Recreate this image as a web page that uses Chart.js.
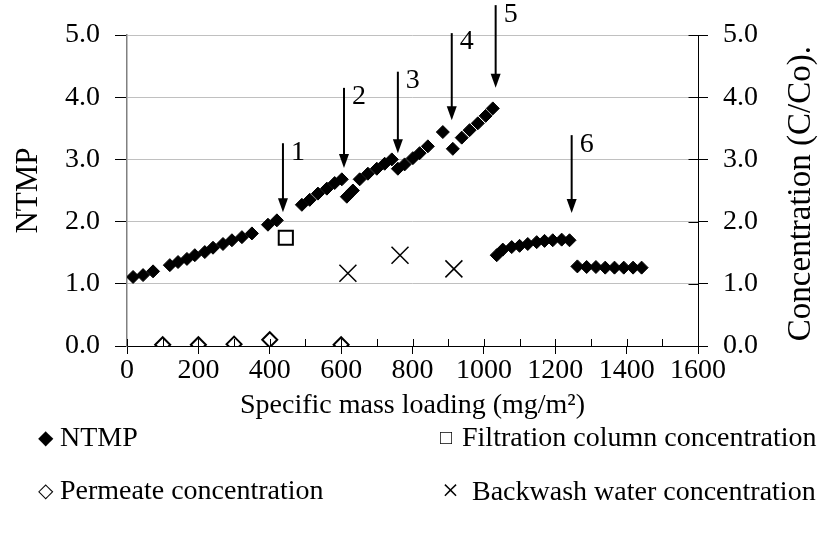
<!DOCTYPE html>
<html>
<head>
<meta charset="utf-8">
<script src="https://cdn.jsdelivr.net/npm/chart.js@4.4.0/dist/chart.umd.min.js"></script>
<style>
  body { margin: 0; background: #fff; }
  #wrap { position: relative; width: 830px; height: 554px; }
  .leg { position: absolute; font-family: "Liberation Serif", serif; font-size: 28px; line-height: 32px; color: #000; white-space: nowrap; }
  .leg span { display: inline-block; width: 22px; font-size: 20px; vertical-align: 2px; }
  .leg span.x { width: 30px; font-size: 30px; vertical-align: 0; }
</style>
</head>
<body>
<div id="wrap">
  <canvas id="chart" width="830" height="554"></canvas>
  <div class="leg" style="left:38px; top:421px;"><span>&#9670;</span>NTMP</div>
  <div class="leg" style="left:440px; top:421px;"><span>&#9633;</span>Filtration column concentration</div>
  <div class="leg" style="left:38px; top:474px;"><span>&#9671;</span>Permeate concentration</div>
  <div class="leg" style="left:442px; top:474px;"><span class="x">&#215;</span>Backwash water concentration</div>
</div>
<script>
// NTMP vs specific mass loading
const ntmpX = [17, 45, 73, 120, 143, 168, 190, 218, 241, 269, 294, 322, 350, 395, 420,
  490, 512, 535, 560, 582, 602,
  616, 633, 652, 675, 700, 722, 742,
  759, 778, 801, 820, 843,
  885, 913, 938, 960, 983, 1005, 1025,
  1036, 1053, 1078, 1100, 1123, 1148, 1170, 1193, 1218, 1240,
  1262, 1288, 1314, 1340, 1366, 1392, 1418, 1442];
const ntmpY = [1.11, 1.14, 1.2, 1.3, 1.35, 1.4, 1.46, 1.51, 1.58, 1.64, 1.7, 1.75, 1.81, 1.95, 2.02,
  2.27, 2.35, 2.45, 2.53, 2.62, 2.68,
  2.4, 2.5, 2.68, 2.77, 2.85, 2.93, 3.0,
  2.85, 2.92, 3.02, 3.1, 3.21,
  3.44, 3.17, 3.35, 3.47, 3.58, 3.7, 3.82,
  1.46, 1.55, 1.59, 1.61, 1.64, 1.67, 1.69, 1.7, 1.71, 1.7,
  1.28, 1.27, 1.27, 1.26, 1.26, 1.26, 1.26, 1.26];

// concentrations (C/Co)
const permeateX = [100, 200, 300, 400, 600];
const permeateY = [0.02, 0.02, 0.03, 0.1, 0.02];
const columnX = [445];
const columnY = [1.74];
const backwashX = [619, 765, 916];
const backwashY = [1.17, 1.46, 1.24];

// backwash markers
const arrowLabels = ["1", "2", "3", "4", "5", "6"];
const arrowX = [437, 608, 759, 910, 1033, 1246];
const arrowTop = [3.26, 4.15, 4.41, 5.03, 5.48, 3.39];
const arrowTip = [2.15, 2.86, 3.1, 3.63, 4.15, 2.14];

const FONT = "Liberation Serif";

function toPoints(xs, ys) {
  return xs.map((x, i) => ({ x: x, y: ys[i] }));
}

const arrowPlugin = {
  id: "arrows",
  afterDraw(chart) {
    const ctx = chart.ctx;
    const xs = chart.scales.x;
    const ys = chart.scales.y;
    ctx.save();
    ctx.strokeStyle = "#000";
    ctx.fillStyle = "#000";

    // tick marks inside the plot (minor every 100, major cross the axis)
    ctx.lineWidth = 1;
    const axisY = ys.getPixelForValue(0);
    for (let v = 0; v <= 1600; v += 100) {
      const px = Math.round(xs.getPixelForValue(v)) + 0.5;
      ctx.beginPath();
      ctx.moveTo(px, axisY);
      ctx.lineTo(px, axisY - 7);
      ctx.stroke();
    }
    // right axis ticks inward
    const rx = Math.round(chart.scales.y2.left) + 0.5;
    for (let v = 0; v <= 5; v++) {
      const py = Math.round(ys.getPixelForValue(v)) + 0.5;
      ctx.beginPath();
      ctx.moveTo(rx - 10, py);
      ctx.lineTo(rx, py);
      ctx.stroke();
    }

    // arrows
    ctx.lineWidth = 2;
    ctx.font = "28px " + FONT;
    ctx.textAlign = "left";
    ctx.textBaseline = "middle";
    arrowX.forEach((v, i) => {
      const px = xs.getPixelForValue(v);
      const top = ys.getPixelForValue(arrowTop[i]);
      const tip = ys.getPixelForValue(arrowTip[i]);
      ctx.beginPath();
      ctx.moveTo(px, top);
      ctx.lineTo(px, tip - 12);
      ctx.stroke();
      ctx.beginPath();
      ctx.moveTo(px - 5, tip - 14);
      ctx.lineTo(px + 5, tip - 14);
      ctx.lineTo(px, tip);
      ctx.closePath();
      ctx.fill();
      ctx.fillText(arrowLabels[i], px + 8, top + 9);
    });

    // right axis title, reading upwards
    ctx.save();
    ctx.font = "33px " + FONT;
    ctx.translate(801, ys.getPixelForValue(2.45));
    ctx.rotate(-Math.PI / 2);
    ctx.textAlign = "center";
    ctx.fillText("Concentration (C/Co).", 0, 0);
    ctx.restore();

    ctx.restore();
  },
};

const ctx = document.getElementById("chart").getContext("2d");
new Chart(ctx, {
  type: "scatter",
  data: {
    datasets: [
      {
        label: "NTMP",
        data: toPoints(ntmpX, ntmpY),
        yAxisID: "y",
        pointStyle: "rectRot",
        pointRadius: 6.5,
        backgroundColor: "#000",
        borderColor: "#000",
        borderWidth: 1,
      },
      {
        label: "Filtration column concentration",
        data: toPoints(columnX, columnY),
        yAxisID: "y2",
        pointStyle: "rect",
        pointRadius: 10,
        backgroundColor: "#fff",
        borderColor: "#000",
        borderWidth: 2,
      },
      {
        label: "Permeate concentration",
        data: toPoints(permeateX, permeateY),
        yAxisID: "y2",
        pointStyle: "rectRot",
        pointRadius: 7.5,
        backgroundColor: "#fff",
        borderColor: "#000",
        borderWidth: 2,
      },
      {
        label: "Backwash water concentration",
        data: toPoints(backwashX, backwashY),
        yAxisID: "y2",
        pointStyle: "crossRot",
        pointRadius: 12,
        backgroundColor: "#000",
        borderColor: "#000",
        borderWidth: 1.5,
      },
    ],
  },
  options: {
    responsive: false,
    animation: false,
    layout: { padding: { top: 35, left: 0, right: 0, bottom: 0 } },
    plugins: {
      legend: { display: false },
      tooltip: { enabled: false },
    },
    scales: {
      x: {
        type: "linear",
        min: 0,
        max: 1600,
        afterFit: (scale) => { scale.height = 554 - 346; },
        ticks: {
          stepSize: 200,
          color: "#000",
          padding: 0,
          font: { family: FONT, size: 28 },
          callback: (v) => String(v),
        },
        grid: { drawOnChartArea: false, tickLength: 8, tickColor: "#000", color: "#000" },
        border: { color: "#000", width: 1 },
        title: {
          display: true,
          text: "Specific mass loading (mg/m²)",
          color: "#000",
          font: { family: FONT, size: 28 },
          padding: { top: 0, bottom: 132 },
        },
      },
      y: {
        position: "left",
        min: 0,
        max: 5,
        afterFit: (scale) => { scale.width = 127; },
        ticks: {
          stepSize: 1,
          color: "#000",
          padding: 15,
          font: { family: FONT, size: 28 },
          callback: (v) => v.toFixed(1),
        },
        grid: {
          tickLength: 12,
          tickColor: "#000",
          color: (c) => (c.tick && c.tick.value === 0 ? "rgba(0,0,0,0)" : "#c0c0c0"),
        },
        border: { color: "#808080", width: 1.5 },
        title: {
          display: true,
          text: "NTMP",
          color: "#000",
          font: { family: FONT, size: 31 },
          padding: { top: 10, bottom: 0 },
        },
      },
      y2: {
        position: "right",
        min: 0,
        max: 5,
        afterFit: (scale) => { scale.width = 830 - 698; },
        ticks: {
          stepSize: 1,
          color: "#000",
          padding: 15,
          font: { family: FONT, size: 28 },
          callback: (v) => v.toFixed(1),
        },
        grid: { drawOnChartArea: false, tickLength: 10, tickColor: "#000", color: "#000" },
        border: { color: "#000", width: 1 },
      },
    },
  },
  plugins: [arrowPlugin],
});
</script>
</body>
</html>
